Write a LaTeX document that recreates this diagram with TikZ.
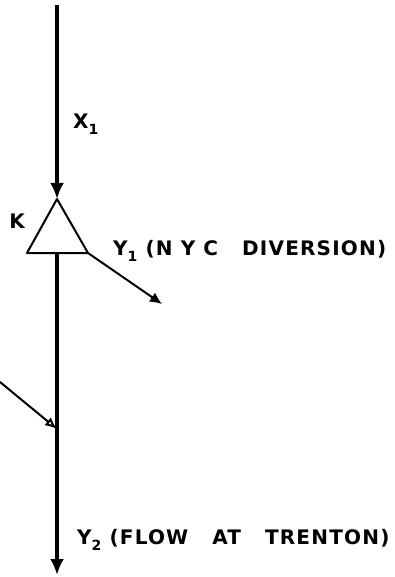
\documentclass[tikz,border=0pt]{standalone}
\usepackage{fontspec}
\setmainfont{DejaVu Sans}
\usetikzlibrary{arrows.meta}
\newcommand{\lsub}[1]{\raisebox{-0.6ex}{\fontsize{14}{14}\selectfont #1}}
\begin{document}
\begin{tikzpicture}[x=1pt,y=-1pt,
  mainline/.style={line width=3.6pt,-{Latex[length=16pt,width=14pt]}},
  branch/.style={line width=2pt},
  lbl/.style={font=\fontsize{20}{24}\selectfont\bfseries\addfontfeature{LetterSpace=6},inner sep=0pt,anchor=west}]
\useasboundingbox (0,0) rectangle (394,577);
\coordinate (top) at (57,5);
\coordinate (apex) at (57,199);
\coordinate (bl) at (27,253);
\coordinate (br) at (88,253);
\coordinate (base) at (57,254);
\coordinate (bot) at (57,575);
\coordinate (d1) at (162,304);
\coordinate (in) at (0,382);
\coordinate (join) at (57,429);
\draw[mainline] (top) -- (apex);
\draw[branch,line join=round] (apex) -- (bl) -- (br) -- cycle;
\draw[mainline] (base) -- (bot);
\draw[branch,-{Latex[length=12pt,width=11pt]}] (br) -- (d1);
\draw[branch,-{Latex[open,length=12pt,width=10pt]}] (in) -- (join);
\node[lbl] (x1) at (73,124) {X\lsub{1}};
\node[lbl,anchor=east] (k) at (25,221) {K};
\node[lbl] (y1) at (113,251) {Y\lsub{1} (N Y C\hspace{1.2em}DIVERSION)};
\node[lbl] (y2) at (77,540) {Y\lsub{2} (FLOW\hspace{1.2em}AT\hspace{1.2em}TRENTON)};
\end{tikzpicture}
\end{document}
